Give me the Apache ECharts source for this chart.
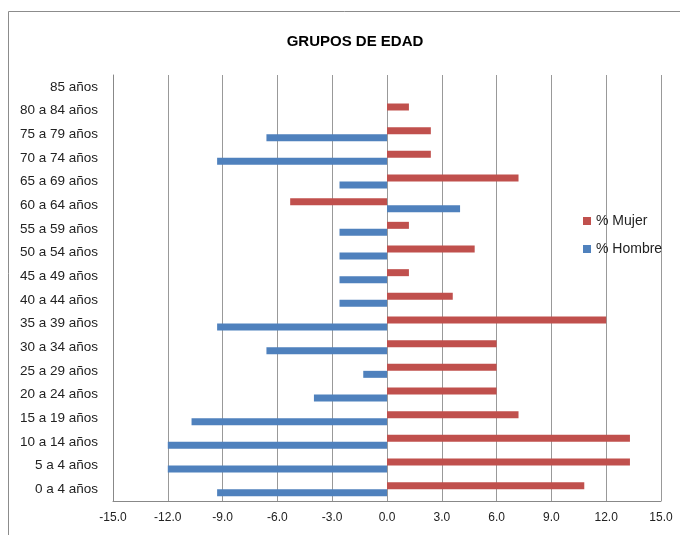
<!DOCTYPE html>
<html>
<head>
<meta charset="utf-8">
<script src="https://cdn.jsdelivr.net/npm/echarts@6/dist/echarts.min.js"></script>
<style>
  html, body { margin: 0; padding: 0; background: #fff; }
  #chart { width: 680px; height: 535px; }
</style>
</head>
<body>
<div id="chart"></div>
<script>
const categories = [
  "0 a 4 años", "5 a 4 años", "10 a 14 años", "15 a 19 años", "20 a 24 años",
  "25 a 29 años", "30 a 34 años", "35 a 39 años", "40 a 44 años", "45 a 49 años",
  "50 a 54 años", "55 a 59 años", "60 a 64 años", "65 a 69 años", "70 a 74 años",
  "75 a 79 años", "80 a 84 años", "85 años"
];
const mujer = [10.8, 13.3, 13.3, 7.2, 6.0, 6.0, 6.0, 12.0, 3.6, 1.2, 4.8, 1.2, -5.3, 7.2, 2.4, 2.4, 1.2, 0];
const hombre = [-9.3, -12.0, -12.0, -10.7, -4.0, -1.3, -6.6, -9.3, -2.6, -2.6, -2.6, -2.6, 4.0, -2.6, -9.3, -6.6, 0, 0];

const font = '"Liberation Sans", Arial, sans-serif';

const myChart = echarts.init(document.getElementById("chart"));
myChart.setOption({
  animation: false,
  title: {
    text: "GRUPOS DE EDAD",
    left: 350,
    textAlign: "center",
    top: 29,
    textStyle: { fontFamily: font, fontSize: 15, fontWeight: "bold", color: "#000" },
  },
  graphic: [
    {
      type: "rect",
      shape: { x: 8.5, y: 11.5, width: 700, height: 560 },
      style: { fill: "none", stroke: "#8c8c8c", lineWidth: 1 },
      silent: true,
    },
  ],
  legend: {
    orient: "vertical",
    left: 578,
    top: 209,
    icon: "rect",
    itemWidth: 8,
    itemHeight: 8,
    itemGap: 14,
    data: ["% Mujer", "% Hombre"],
    textStyle: { fontFamily: font, fontSize: 14, color: "#222" },
  },
  grid: { left: 113, right: 19, top: 75, bottom: 34 },
  xAxis: {
    type: "value",
    min: -15,
    max: 15,
    interval: 3,
    axisLine: { show: true, lineStyle: { color: "#888" } },
    axisTick: { show: false },
    splitLine: { show: true, lineStyle: { color: "#999" } },
    axisLabel: {
      fontFamily: font,
      fontSize: 12,
      color: "#222",
      margin: 11,
      formatter: (v) => v.toFixed(1),
    },
  },
  yAxis: {
    type: "category",
    data: categories,
    axisLine: { show: true, onZero: false, lineStyle: { color: "#888" } },
    axisTick: { show: false },
    axisLabel: { fontFamily: font, fontSize: 13.5, color: "#222", margin: 15 },
  },
  series: [
    {
      name: "% Mujer",
      type: "bar",
      data: mujer,
      barWidth: 7,
      barGap: "0%",
      itemStyle: { color: "#C0504D" },
    },
    {
      name: "% Hombre",
      type: "bar",
      data: hombre,
      barWidth: 7,
      barGap: "0%",
      itemStyle: { color: "#4F81BD" },
    },
  ],
});
</script>
</body>
</html>
